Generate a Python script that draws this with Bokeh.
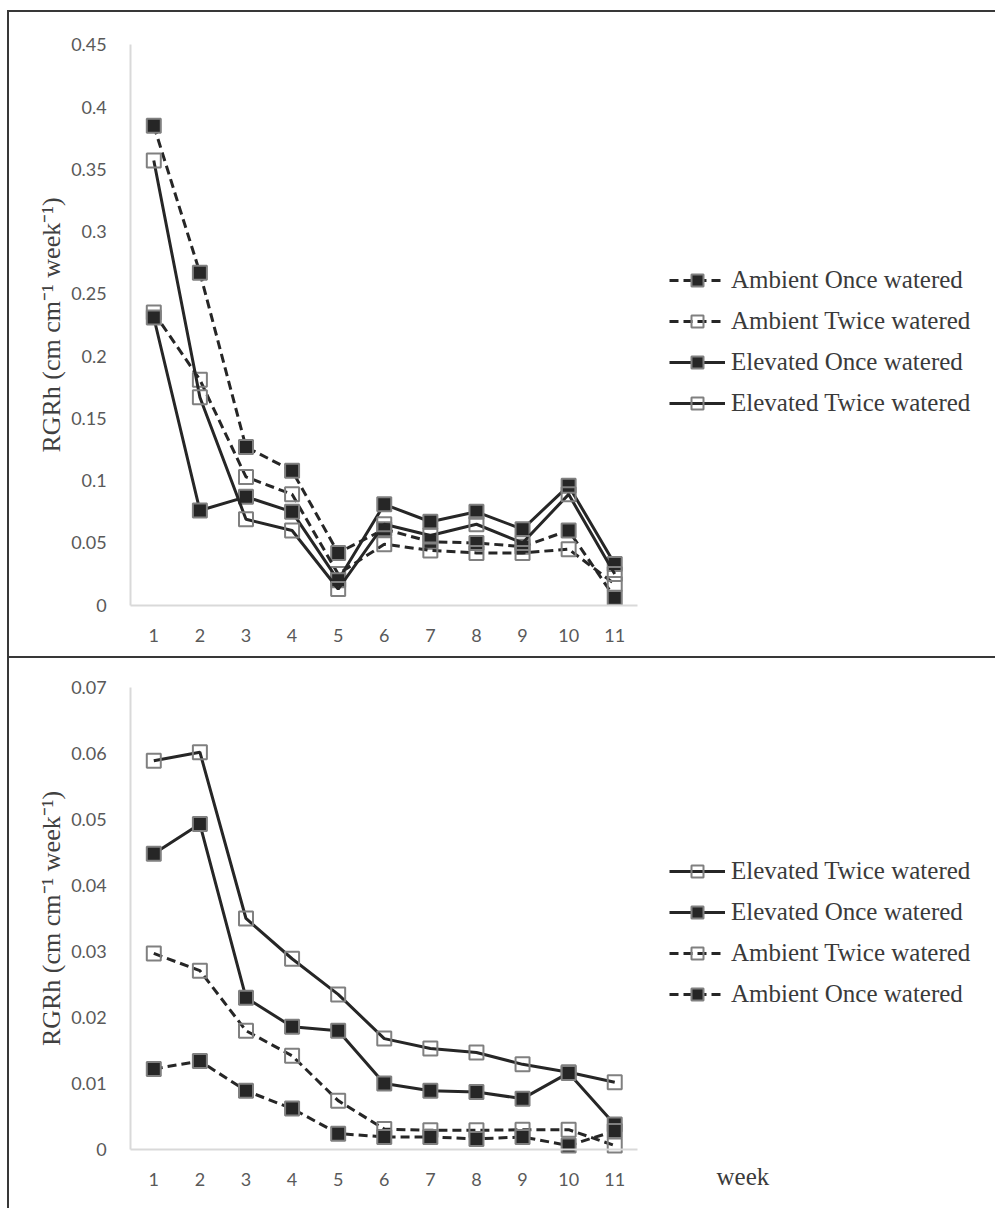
from bokeh.plotting import figure
from bokeh.models import Range1d, Legend, LegendItem, Label, FixedTicker, CustomJSTickFormatter
from bokeh.layouts import column
from bokeh.embed import file_html
from bokeh.resources import INLINE

# ---------------- data ----------------
weeks = [1, 2, 3, 4, 5, 6, 7, 8, 9, 10, 11]
week_tick_labels = ["1", "2", "3", "4", "5", "6", "7", "8", "9", "10", "11"]

# top panel
top_ambient_once = [0.385, 0.267, 0.127, 0.108, 0.042, 0.061, 0.051, 0.050, 0.047, 0.060, 0.006]
top_ambient_twice = [0.235, 0.181, 0.103, 0.089, 0.025, 0.049, 0.044, 0.042, 0.042, 0.045, 0.017]
top_elevated_once = [0.231, 0.076, 0.087, 0.075, 0.020, 0.081, 0.067, 0.075, 0.061, 0.096, 0.033]
top_elevated_twice = [0.357, 0.167, 0.069, 0.060, 0.013, 0.065, 0.056, 0.065, 0.050, 0.089, 0.025]
top_y_ticks = [0, 0.05, 0.1, 0.15, 0.2, 0.25, 0.3, 0.35, 0.4, 0.45]
top_y_tick_labels = ["0", "0.05", "0.1", "0.15", "0.2", "0.25", "0.3", "0.35", "0.4", "0.45"]

# bottom panel
bot_elevated_twice = [0.0589, 0.0602, 0.0350, 0.0289, 0.0235, 0.0168, 0.0153, 0.0147, 0.0129, 0.0117, 0.0102]
bot_elevated_once = [0.0448, 0.0493, 0.0230, 0.0186, 0.0180, 0.0100, 0.0089, 0.0087, 0.0077, 0.0116, 0.0038]
bot_ambient_twice = [0.0297, 0.0271, 0.0180, 0.0142, 0.0074, 0.0031, 0.0029, 0.0029, 0.0030, 0.0030, 0.0006]
bot_ambient_once = [0.0122, 0.0134, 0.0089, 0.0062, 0.0024, 0.0019, 0.0019, 0.0016, 0.0019, 0.0006, 0.0028]
bot_y_ticks = [0, 0.01, 0.02, 0.03, 0.04, 0.05, 0.06, 0.07]
bot_y_tick_labels = ["0", "0.01", "0.02", "0.03", "0.04", "0.05", "0.06", "0.07"]

y_title = "RGRh (cm cm\u207b\u00b9 week\u207b\u00b9)"
x_title = "week"

LINE = "#262626"
EDGE = "#808080"
FRAME = "2px solid #383838"


def label_formatter(tick_values, tick_texts):
    return CustomJSTickFormatter(args=dict(tv=tick_values, tl=tick_texts), code="""
        let best = 0, d = Infinity;
        for (let i = 0; i < tv.length; i++) {
            const e = Math.abs(tv[i] - tick);
            if (e < d) { d = e; best = i; }
        }
        return tl[best];
    """)


def make_panel(height, x_lim, y_lim, y_max, y_ticks, y_labels, series, legend_loc, styles):
    p = figure(width=988, height=height, x_range=Range1d(*x_lim), y_range=Range1d(*y_lim),
               output_backend="svg", toolbar_location=None, title=None, min_border=0)
    p.styles = styles
    p.outline_line_color = None
    p.grid.visible = False

    for ax in (p.xaxis, p.yaxis):
        ax.axis_line_color = "#d9d9d9"
        ax.axis_line_width = 2
        ax.major_tick_line_color = None
        ax.minor_tick_line_color = None
        ax.major_label_text_font = "Lato"
        ax.major_label_text_font_size = "18px"
        ax.major_label_text_color = "#595959"

    p.xaxis.fixed_location = 0
    p.xaxis.bounds = (0.5, 11.5)
    p.xaxis.ticker = FixedTicker(ticks=weeks)
    p.xaxis.formatter = label_formatter(weeks, week_tick_labels)
    p.xaxis.major_label_standoff = 18

    p.yaxis.fixed_location = 0.5
    p.yaxis.bounds = (0, y_max)
    p.yaxis.ticker = FixedTicker(ticks=y_ticks)
    p.yaxis.formatter = label_formatter(y_ticks, y_labels)
    p.yaxis.major_label_standoff = 18
    p.yaxis.axis_label = y_title
    p.yaxis.axis_label_text_font = "Liberation Serif"
    p.yaxis.axis_label_text_font_size = "26px"
    p.yaxis.axis_label_text_font_style = "normal"
    p.yaxis.axis_label_text_color = "#404040"
    p.yaxis.axis_label_standoff = 2

    items = []
    for name, vals, dashed, filled in series:
        r1 = p.line(weeks, vals, line_color=LINE, line_width=3,
                    line_dash="9 5" if dashed else "solid")
        r2 = p.scatter(weeks, vals, marker="square", size=14,
                       fill_color=LINE if filled else None,
                       line_color=EDGE, line_width=2)
        items.append(LegendItem(label=name, renderers=[r1, r2]))

    legend = Legend(items=items, location=legend_loc,
                    glyph_width=56, glyph_height=30, label_height=30,
                    spacing=11, padding=0, margin=0, label_standoff=6,
                    border_line_color=None, background_fill_alpha=0,
                    label_text_font="Liberation Serif", label_text_font_size="25px",
                    label_text_color="#3a3a3a")
    p.add_layout(legend)
    return p


top_series = [
    ("Ambient Once watered", top_ambient_once, True, True),
    ("Ambient Twice watered", top_ambient_twice, True, False),
    ("Elevated Once watered", top_elevated_once, False, True),
    ("Elevated Twice watered", top_elevated_twice, False, False),
]
bot_series = [
    ("Elevated Twice watered", bot_elevated_twice, False, False),
    ("Elevated Once watered", bot_elevated_once, False, True),
    ("Ambient Twice watered", bot_ambient_twice, True, False),
    ("Ambient Once watered", bot_ambient_once, True, True),
]

p1 = make_panel(648, (-2.1304, 19.304), (-0.0444, 0.4759), 0.45,
                top_y_ticks, top_y_tick_labels, top_series, (660, 242),
                {"border-left": FRAME, "border-top": FRAME, "border-bottom": FRAME})
p2 = make_panel(550, (-2.1304, 19.304), (-0.00894, 0.07439), 0.07,
                bot_y_ticks, bot_y_tick_labels, bot_series, (660, 199),
                {"border-left": FRAME})

p2.add_layout(Label(x=13.78, y=-0.00415, text=x_title, text_font="Liberation Serif",
                    text_font_size="25px", text_align="center", text_baseline="middle",
                    text_color="#3a3a3a"))

layout = column(p1, p2, margin=(10, 0, 0, 7))
open("out.html", "w").write(file_html(layout, INLINE))
